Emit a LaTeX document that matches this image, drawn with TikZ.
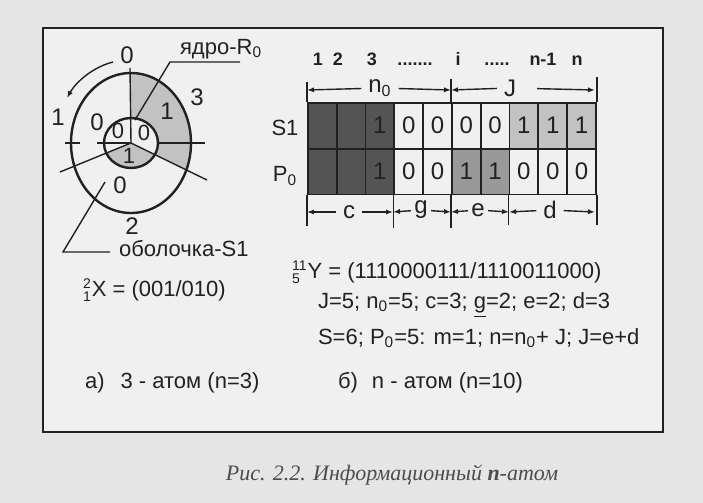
\documentclass[tikz,border=0pt]{standalone}
\usepackage{fontspec}
\setmainfont{Liberation Sans}
\newfontfamily\capfont{Liberation Serif}
\usetikzlibrary{arrows.meta}
\definecolor{paper}{gray}{0.90}
\definecolor{sheet}{gray}{0.94}
\definecolor{ink}{gray}{0.13}
\definecolor{darkcell}{gray}{0.33}
\definecolor{midcell}{gray}{0.60}
\definecolor{lightcell}{gray}{0.76}
\newcommand{\nuclide}[3]{${}^{\mbox{\scriptsize #1}}_{\mbox{\scriptsize #2}}$#3}

\begin{document}
\begin{tikzpicture}[x=0.5pt,y=-0.5pt,>={Latex[length=3.5pt,width=2.6pt]},
  every node/.style={text=ink,font=\fontsize{11}{13}\selectfont},
  digit/.style={font=\fontsize{12}{14}\selectfont},
  ringdigit/.style={font=\fontsize{11}{13}\selectfont,inner sep=1pt},
  idx/.style={font=\bfseries\fontsize{9}{10}\selectfont,anchor=base},
  cell/.style={draw=ink,line width=0.9pt,minimum width=14.4pt,minimum height=22.75pt,
    inner sep=0pt,anchor=north west,digit},
  thinline/.style={draw=ink,line width=0.7pt},
  ring/.style={draw=ink,line width=1.2pt}]
  \useasboundingbox (0,0) rectangle (703,503);
  \fill[paper] (0,0) rectangle (703,503);
  \draw[ring,fill=sheet] (43,28) rectangle (663,432);

  \coordinate (C) at (131,143);
  \begin{scope}
    \clip (C) -- (131,0) -- (360,0) -- (360,254) -- cycle;
    \fill[lightcell] (C) ellipse [x radius=60, y radius=70];
  \end{scope}
  \fill[sheet] (C) ellipse [x radius=27, y radius=25];
  \begin{scope}
    \clip (C) -- (360,254) -- (-82,230) -- cycle;
    \fill[lightcell] (C) ellipse [x radius=27, y radius=25];
  \end{scope}
  \draw[ring] (C) ellipse [x radius=60, y radius=70];
  \draw[ring] (C) ellipse [x radius=27, y radius=25];
  \draw[thinline] (C) -- (130,68);
  \draw[thinline] (C) -- (60,172);
  \draw[thinline] (C) -- (207,180);
  \draw[thinline] (158,143) -- (205,143);
  \draw[thinline] (97,143) -- (C);
  \draw[thinline] (65,143) -- (80,143);
  \draw[thinline,->] (113,62) .. controls (93,67) and (76,82) .. (67,98);

  \node[digit] (top0) at (127,55) {0};
  \node[digit] (left1) at (58,117) {1};
  \node[digit] (right3) at (197,97) {3};
  \node[digit] (bot2) at (132,226) {2};
  \node[digit] (sh0) at (97,122) {0};
  \node[digit] (sh1) at (167,111) {1};
  \node[digit] (sh2) at (120,185) {0};
  \node[ringdigit] (co0) at (118,131) {0};
  \node[ringdigit] (co1) at (144,133) {0};
  \node[ringdigit] (co2) at (129,156) {1};

  \node[anchor=west] (core) at (173,49) {ядро-R\textsubscript{0}};
  \coordinate (coreIn) at (135,120);
  \coordinate (coreK) at (170,62);
  \coordinate (coreE) at (240,62);
  \draw[thinline] (coreIn) -- (coreK) -- (coreE);
  \node[anchor=west] (shell) at (112,249) {оболочка-S1};
  \coordinate (shellIn) at (105,182);
  \coordinate (shellK) at (63,252);
  \coordinate (shellE) at (110,252);
  \draw[thinline] (shellIn) -- (shellK) -- (shellE);

  \node[anchor=west] (xeq) at (76,290) {\nuclide{2}{1}{X} = (001/010)};

  \foreach \v/\f [count=\k from 0] in {/darkcell,/darkcell,1/darkcell,0/none,0/none,0/none,0/none,1/lightcell,1/lightcell,1/lightcell}
    \node[cell,fill=\f] (s\k) at ({307+28.8*\k},102) {\v};
  \foreach \v/\f [count=\k from 0] in {/darkcell,/darkcell,1/darkcell,0/none,0/none,1/midcell,1/midcell,0/none,0/none,0/none}
    \node[cell,fill=\f] (p\k) at ({307+28.8*\k},148) {\v};
  \node (rowS) at (285,128) {S1};
  \node (rowP) at (285,176) {P\textsubscript{0}};

  \node[idx] (i1) at (318,66) {1};
  \node[idx] (i2) at (338,66) {2};
  \node[idx] (i3) at (372,66) {3};
  \node[idx] (dots1) at (415,66) {.......};
  \node[idx] (ii) at (458,66) {i};
  \node[idx] (dots2) at (497,66) {.....};
  \node[idx] (inm) at (543,66) {n-1};
  \node[idx] (in) at (577,66) {n};

  \draw[thinline] (s0.north west) -- ++(0,-20);
  \draw[thinline] (s5.north west) -- ++(0,-23);
  \draw[thinline] (s9.north east) -- ++(0,-25);
  \draw[thinline] (p0.south west) -- ++(0,31);
  \draw[thinline] (p3.south west) -- ++(0,33);
  \draw[thinline] (p5.south west) -- ++(0,33);
  \draw[thinline] (p7.south west) -- ++(0,30);
  \draw[thinline] (p9.south east) -- ++(0,30);

  \coordinate (tA) at (307,90);
  \coordinate (tB) at (451,90);
  \coordinate (tC) at (595,90);
  \coordinate (bA) at (307,212);
  \coordinate (bB) at (393,212);
  \coordinate (bC) at (451,212);
  \coordinate (bD) at (509,212);
  \coordinate (bE) at (595,212);
  \node[font=\fontsize{12}{14}\selectfont] (n0) at (380,88) {n\textsubscript{0}};
  \node[font=\fontsize{12}{14}\selectfont] (jl) at (510,88) {J};
  \node[font=\fontsize{12}{14}\selectfont] (cl) at (349,212) {c};
  \node[font=\fontsize{12}{14}\selectfont,inner sep=1.5pt] (gl) at (421,210) {g};
  \node[font=\fontsize{12}{14}\selectfont,inner sep=1.5pt] (el) at (478,210) {e};
  \node[font=\fontsize{12}{14}\selectfont] (dl) at (550,210) {d};
  \draw[thinline,->] (n0) -- (tA);
  \draw[thinline,->] (n0) -- (tB);
  \draw[thinline,->] (jl) -- (tB);
  \draw[thinline,->,shorten <=7pt] (jl) -- (tC);
  \draw[thinline,->] (cl) -- (bA);
  \draw[thinline,->] (cl) -- (bB);
  \draw[thinline,->] (gl) -- (bB);
  \draw[thinline,->] (gl) -- (bC);
  \draw[thinline,->] (el) -- (bC);
  \draw[thinline,->] (el) -- (bD);
  \draw[thinline,->] (dl) -- (bD);
  \draw[thinline,->] (dl) -- (bE);

  \node[anchor=west] (yeq) at (285,272) {\nuclide{11}{5}{Y} = (1110000111/1110011000)};
  \node[anchor=west] (line2) at (311,305) {J=5; n\textsubscript{0}=5; c=3; \underline{g}=2; e=2; d=3};
  \node[anchor=west] (line3) at (311,338) {S=6; P\textsubscript{0}=5: m=1; n=n\textsubscript{0}+ J; J=e+d};
  \node[anchor=west] (capa) at (78,383) {а)\hspace{8pt}3 - атом (n=3)};
  \node[anchor=west] (capb) at (331,383) {б)\hspace{7pt}n - атом (n=10)};

  \node[text=black!70] (caption) at (392,475) {\capfont\fontsize{11}{13}\selectfont\itshape Рис. 2.2. Информационный \textbf{n}-атом};
\end{tikzpicture}
\end{document}
